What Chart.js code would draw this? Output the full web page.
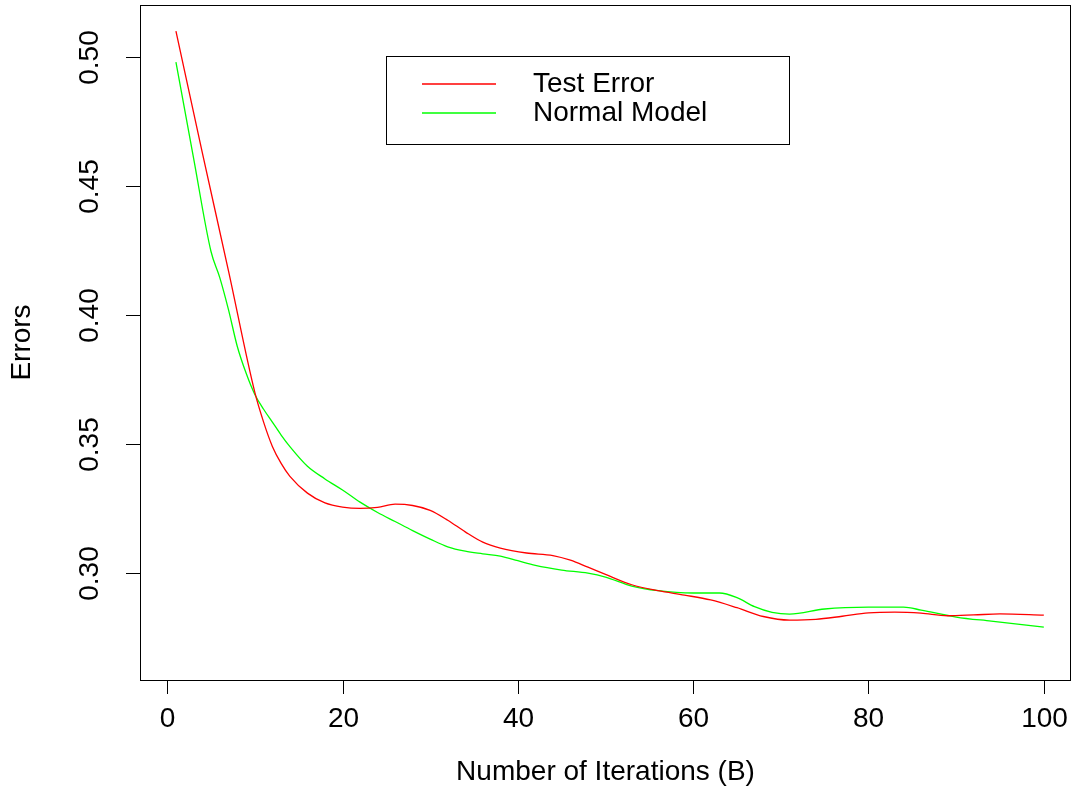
<!DOCTYPE html>
<html lang="en">
  <head>
    <meta charset="utf-8" />
    <title>Errors vs iterations</title>
    <style>
      * {
        margin: 0;
        padding: 0;
      }
      body {
        background: white;
      }
      .chartBox {
        width: 1073px;
        height: 790px;
      }
    </style>
  </head>
  <body>
    <div class="chartBox">
      <canvas id="myChart"></canvas>
    </div>
    <script src="https://cdn.jsdelivr.net/npm/chart.js"></script>
    <script>
      // data
      const testErrorX = [1, 4, 7, 10, 11, 12, 13, 14, 16, 18, 20, 22, 24, 26, 28, 30, 32, 34, 36, 38, 41, 44, 46, 48, 50, 53, 56, 59, 62, 65, 68, 71, 74, 77, 80, 83, 86, 89, 92, 95, 100];
      const testErrorY = [0.510, 0.463, 0.417, 0.370, 0.3585, 0.3491, 0.3425, 0.3375, 0.331, 0.3272, 0.3256, 0.3251, 0.3255, 0.3267, 0.3262, 0.3243, 0.3205, 0.316, 0.312, 0.3097, 0.3078, 0.3068, 0.305, 0.3023, 0.2995, 0.2955, 0.2932, 0.2915, 0.2896, 0.2866, 0.2832, 0.2818, 0.2821, 0.2833, 0.2846, 0.2849, 0.2845, 0.2835, 0.2838, 0.2842, 0.2837];
      const normalModelX = [1, 3, 5, 6, 7, 8, 9, 10, 11, 12, 13, 14, 16, 18, 20, 22, 24, 26, 28, 30, 32, 34, 36, 38, 40, 42, 45, 48, 50, 53, 56, 60, 63, 65, 67, 69, 71, 75, 80, 84, 86, 90, 94, 100];
      const normalModelY = [0.498, 0.461, 0.4246, 0.4145, 0.402, 0.3878, 0.3775, 0.3692, 0.3635, 0.3585, 0.3535, 0.349, 0.3414, 0.3365, 0.3322, 0.3275, 0.3235, 0.32, 0.3165, 0.3132, 0.3102, 0.3085, 0.3075, 0.3066, 0.3048, 0.303, 0.3012, 0.3, 0.2985, 0.295, 0.2932, 0.2923, 0.2923, 0.2905, 0.287, 0.2848, 0.2841, 0.2861, 0.2868, 0.2868, 0.2857, 0.283, 0.2814, 0.2791];
      const xTicks = [0, 20, 40, 60, 80, 100];
      const yTicks = [0.3, 0.35, 0.4, 0.45, 0.5];
      const xTitle = "Number of Iterations (B)";
      const yTitle = "Errors";

      const FONT = '28px "Liberation Sans", Arial, sans-serif';

      const toPoints = (xs, ys) => xs.map((x, i) => ({ x: x, y: ys[i] }));

      const data = {
        datasets: [
          {
            label: "Test Error",
            data: toPoints(testErrorX, testErrorY),
            borderColor: "#FF0000",
            borderWidth: 1.3,
            pointRadius: 0,
            cubicInterpolationMode: "monotone",
          },
          {
            label: "Normal Model",
            data: toPoints(normalModelX, normalModelY),
            borderColor: "#00FF00",
            borderWidth: 1.3,
            pointRadius: 0,
            cubicInterpolationMode: "monotone",
          },
        ],
      };

      // R style box, axes and legend
      const rAxes = {
        id: "rAxes",
        afterDraw(chart) {
          const {
            ctx,
            chartArea: { top, bottom, left, right },
            scales: { x, y },
          } = chart;
          ctx.save();
          ctx.strokeStyle = "#000";
          ctx.lineWidth = 1;
          ctx.strokeRect(left + 0.5, top + 0.5, right - left - 1, bottom - top);

          ctx.fillStyle = "#000";
          ctx.font = FONT;

          // x axis
          ctx.textAlign = "center";
          ctx.textBaseline = "middle";
          xTicks.forEach((v) => {
            const px = Math.round(x.getPixelForValue(v)) + 0.5;
            ctx.beginPath();
            ctx.moveTo(px, bottom);
            ctx.lineTo(px, bottom + 14);
            ctx.stroke();
            ctx.fillText(String(v), px, bottom + 39);
          });
          ctx.fillText(xTitle, (left + right) / 2, bottom + 92);

          // y axis
          yTicks.forEach((v) => {
            const py = Math.round(y.getPixelForValue(v)) + 0.5;
            ctx.beginPath();
            ctx.moveTo(left, py);
            ctx.lineTo(left - 14, py);
            ctx.stroke();
            ctx.save();
            ctx.translate(left - 50, py);
            ctx.rotate(-Math.PI / 2);
            ctx.fillText(v.toFixed(2), 0, 0);
            ctx.restore();
          });
          ctx.save();
          ctx.translate(22, (top + bottom) / 2);
          ctx.rotate(-Math.PI / 2);
          ctx.fillText(yTitle, 0, 0);
          ctx.restore();

          // legend
          const lx = 386.5, ly = 56.5, lw = 403, lh = 88;
          ctx.strokeRect(lx, ly, lw, lh);
          ctx.textAlign = "left";
          chart.data.datasets.forEach((ds, i) => {
            const rowY = 84 + i * 29;
            ctx.strokeStyle = ds.borderColor;
            ctx.lineWidth = 1.3;
            ctx.beginPath();
            ctx.moveTo(422, rowY);
            ctx.lineTo(496, rowY);
            ctx.stroke();
            ctx.fillText(ds.label, 533, rowY);
          });
          ctx.restore();
        },
      };

      const config = {
        type: "line",
        data,
        options: {
          responsive: true,
          maintainAspectRatio: false,
          animation: false,
          layout: {
            padding: { left: 140, top: 5, right: 2, bottom: 110 },
          },
          plugins: {
            legend: { display: false },
            tooltip: { enabled: false },
          },
          scales: {
            x: {
              type: "linear",
              min: -3.1,
              max: 103.1,
              display: false,
            },
            y: {
              type: "linear",
              min: 0.2586,
              max: 0.5201,
              display: false,
            },
          },
        },
        plugins: [rAxes],
      };

      const myChart = new Chart(document.getElementById("myChart"), config);
    </script>
  </body>
</html>
